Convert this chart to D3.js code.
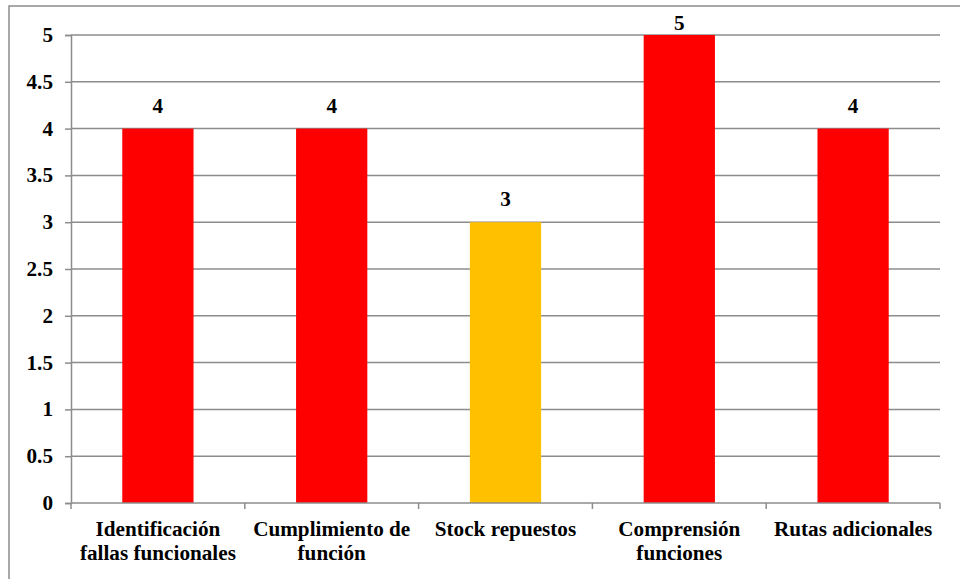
<!DOCTYPE html>
<html>
<head>
<meta charset="utf-8">
<script src="https://cdn.jsdelivr.net/npm/d3@7/dist/d3.min.js"></script>
<style>
  html, body { margin: 0; padding: 0; background: #fff; }
  svg { display: block; }
</style>
</head>
<body>
<svg id="chart" width="960" height="579"></svg>
<script>
// Evaluation categories (two-line labels) and their scores
const categories = [
  ["Identificación", "fallas funcionales"],
  ["Cumplimiento de", "función"],
  ["Stock repuestos"],
  ["Comprensión", "funciones"],
  ["Rutas adicionales"]
];
const values = [4, 4, 3, 5, 4];
const barColors = ["#FF0000", "#FF0000", "#FFC000", "#FF0000", "#FF0000"];
const yTicks = [0, 0.5, 1, 1.5, 2, 2.5, 3, 3.5, 4, 4.5, 5];

const svg = d3.select("#chart");
const W = 960, H = 579;
const plotLeft = 71, plotRight = 940, plotTop = 35, plotBottom = 503;
const gridColor = "#8c8c8c";
const FONT = "Liberation Serif";
const fontSize = 20;
const stretch = 1.06; // slightly wide glyphs

// Outer chart frame (runs off the right and bottom edges)
svg.append("rect")
  .attr("x", 9).attr("y", 6)
  .attr("width", W).attr("height", H)
  .attr("fill", "none").attr("stroke", gridColor).attr("stroke-width", 1.5);

const x = d3.scaleBand()
  .domain(d3.range(categories.length))
  .range([plotLeft, plotRight])
  .paddingInner(0.59).paddingOuter(0.295);

const y = d3.scaleLinear().domain([0, 5]).range([plotBottom, plotTop]);

// Horizontal gridlines
svg.append("g").selectAll("line").data(yTicks.filter(d => d > 0)).join("line")
  .attr("x1", plotLeft).attr("x2", plotRight)
  .attr("y1", d => y(d)).attr("y2", d => y(d))
  .attr("stroke", gridColor).attr("stroke-width", 1.5);

// Y axis
const yAxis = svg.append("g")
  .attr("transform", `translate(${plotLeft},0)`)
  .call(d3.axisLeft(y).tickValues(yTicks).tickSize(6).tickPadding(12)
    .tickFormat(d => d3.format("~g")(d)));
yAxis.attr("font-family", FONT).attr("font-size", fontSize).attr("font-weight", "bold");
yAxis.select(".domain").attr("stroke", gridColor).attr("stroke-width", 1.5);
yAxis.selectAll(".tick line").attr("stroke", gridColor).attr("stroke-width", 1.5);
yAxis.selectAll(".tick text")
  .attr("fill", "#000")
  .attr("transform", function () {
    const tx = +d3.select(this).attr("x");
    return `translate(${tx},0) scale(${stretch},1)`;
  })
  .attr("x", 0);

// Bars
svg.append("g").selectAll("rect").data(values).join("rect")
  .attr("x", (d, i) => x(i))
  .attr("width", x.bandwidth())
  .attr("y", d => y(d))
  .attr("height", d => y(0) - y(d))
  .attr("fill", (d, i) => barColors[i]);

// Value labels above bars, kept inside the chart frame
const labelY = d => Math.max(y(d) - 16, 29.5);
svg.append("g")
  .attr("font-family", FONT).attr("font-size", fontSize).attr("font-weight", "bold")
  .selectAll("text").data(values).join("text")
  .attr("transform", (d, i) => `translate(${x(i) + x.bandwidth() / 2},${labelY(d)}) scale(${stretch},1)`)
  .attr("text-anchor", "middle")
  .attr("fill", "#000")
  .text(d => d);

// X axis line with category boundary ticks
const n = categories.length;
const boundaries = d3.range(n + 1).map(i => plotLeft + i * (plotRight - plotLeft) / n);
svg.append("line")
  .attr("x1", plotLeft).attr("x2", plotRight)
  .attr("y1", y(0)).attr("y2", y(0))
  .attr("stroke", gridColor).attr("stroke-width", 1.5);
svg.append("g").selectAll("line").data(boundaries).join("line")
  .attr("x1", d => d).attr("x2", d => d)
  .attr("y1", y(0)).attr("y2", y(0) + 6)
  .attr("stroke", gridColor).attr("stroke-width", 1.5);

// Category labels
const labels = svg.append("g")
  .attr("font-family", FONT).attr("font-size", fontSize).attr("font-weight", "bold")
  .selectAll("text").data(categories).join("text")
  .attr("transform", (d, i) => `translate(${x(i) + x.bandwidth() / 2},535.5) scale(${stretch},1)`)
  .attr("text-anchor", "middle")
  .attr("fill", "#000");
labels.selectAll("tspan").data(d => d).join("tspan")
  .attr("x", 0)
  .attr("dy", (d, j) => j === 0 ? 0 : 25)
  .text(d => d);
</script>
</body>
</html>
